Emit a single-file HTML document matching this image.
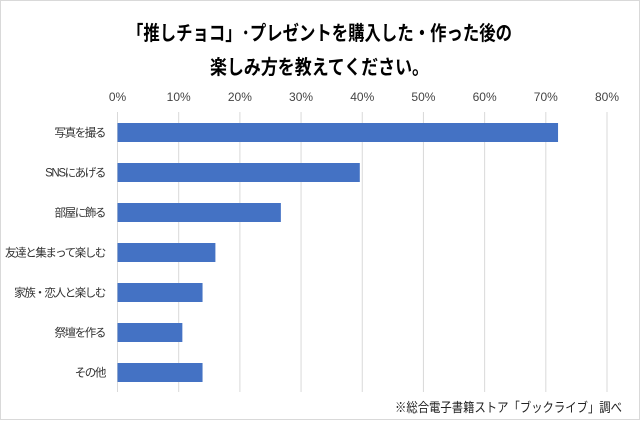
<!DOCTYPE html>
<html><head><meta charset="utf-8"><style>
body{margin:0;background:#fff}
svg text{font-family:"Liberation Sans","Noto Sans CJK JP",sans-serif}
</style></head><body>
<svg width="640" height="420" viewBox="0 0 640 420">
<rect x="0.5" y="0.5" width="639" height="419" fill="#fff" stroke="#d9d9d9"/>
<text x="127" y="40" textLength="385" lengthAdjust="spacingAndGlyphs" font-size="20" font-weight="bold" fill="#000">「推しチョコ」･プレゼントを購入した・作った後の</text>
<text x="210" y="74" textLength="219" lengthAdjust="spacingAndGlyphs" font-size="20" font-weight="bold" fill="#000">楽しみ方を教えてください。</text>
<g id="grid"></g><g id="bars"></g><g id="labels"></g>
<text x="395" y="412" textLength="227" lengthAdjust="spacingAndGlyphs" font-size="13" fill="#222">※総合電子書籍ストア「ブックライブ」調べ</text>
</svg>
<script>
const categories=["写真を撮る","SNSにあげる","部屋に飾る","友達と集まって楽しむ","家族・恋人と楽しむ","祭壇を作る","その他"];
const values=[72.0,39.6,26.7,16.0,13.9,10.6,13.9];
const ticks=[0,10,20,30,40,50,60,70,80];
const NS="http://www.w3.org/2000/svg";
const x0=117.5,x1=607,xmax=80,yTop=112,band=40,barH=19;
const xs=v=>x0+(x1-x0)*v/xmax;
const g=document.getElementById('grid'),b=document.getElementById('bars'),l=document.getElementById('labels');
function mk(tag,attrs,parent){const e=document.createElementNS(NS,tag);for(const k in attrs)e.setAttribute(k,attrs[k]);parent.appendChild(e);return e;}
ticks.forEach(t=>{
  const ln=mk('line',{x1:xs(t),x2:xs(t),y1:yTop,y2:392,stroke:'#d9d9d9','stroke-width':1},g);
  
  
  const tx=mk('text',{x:xs(t),y:101,'text-anchor':'middle','font-size':12,fill:'#444'},g);
  tx.textContent=t+'%';
  
  
});
categories.forEach((c,i)=>{
  const yc=yTop+band*i+20;
  const r=mk('rect',{x:x0,y:yc-barH/2+0.5,width:xs(values[i])-x0,height:barH,fill:'#4472c4'},b);
  
  
  const t=mk('text',{x:105,y:yc+4.5,'text-anchor':'end','font-size':11.5,'letter-spacing':-1.4,fill:'#333'},l);
  t.textContent=c;
  
  
});
</script>
</body></html>
